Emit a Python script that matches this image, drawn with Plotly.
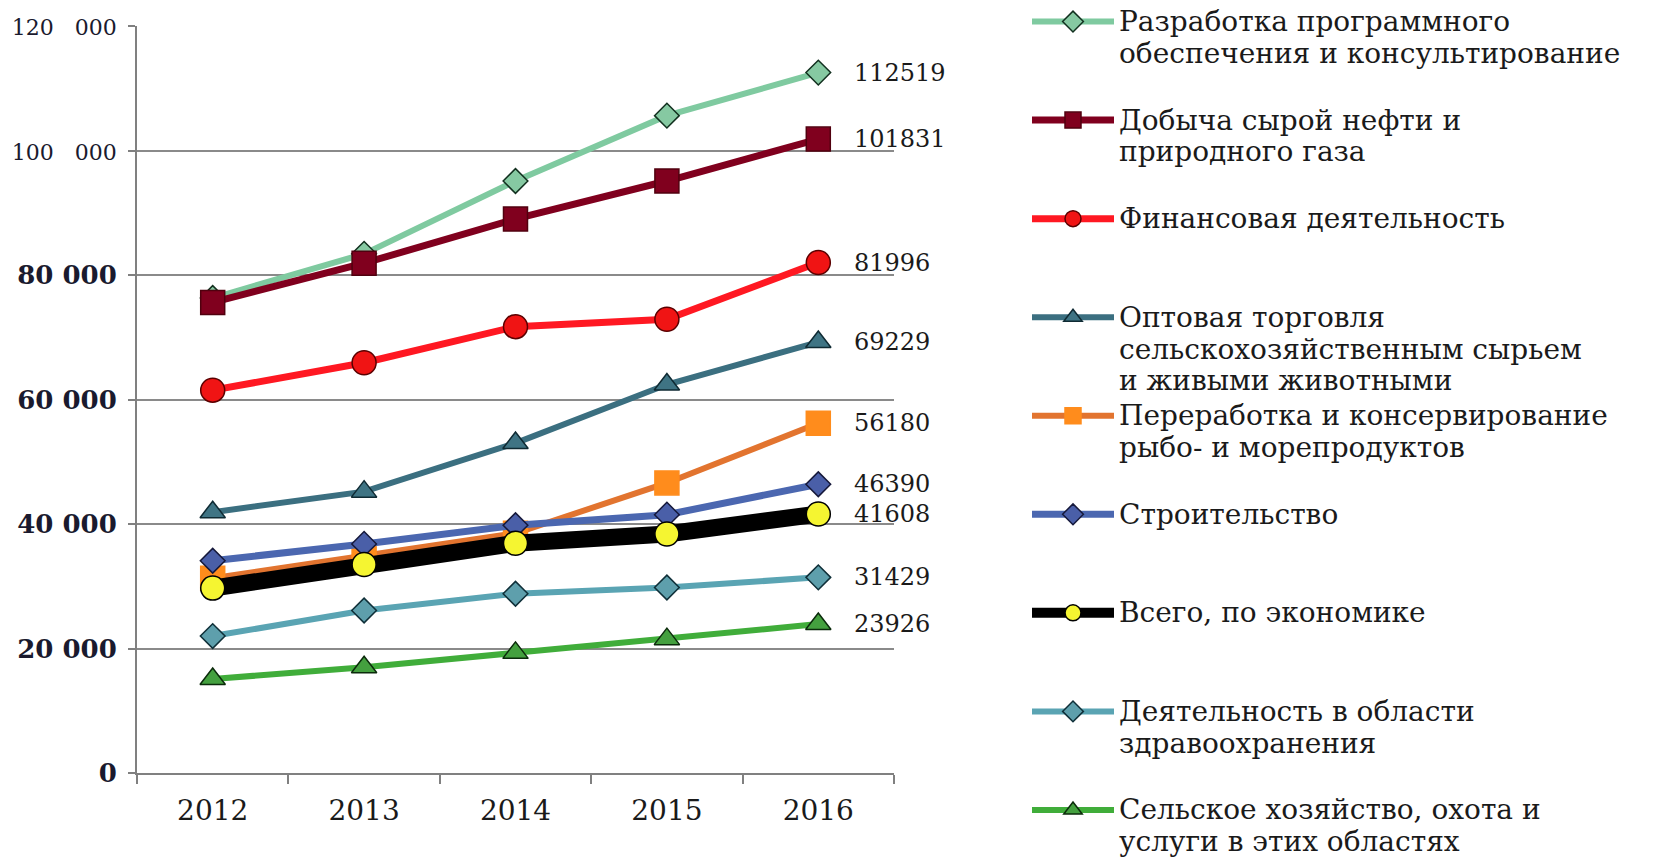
import plotly.graph_objects as go

years = ["2012", "2013", "2014", "2015", "2016"]

names = [
    "Разработка программного<br>обеспечения и консультирование<br>",
    "Добыча сырой нефти и<br>природного газа<br>",
    "Финансовая деятельность<br><br>",
    "Оптовая торговля<br>сельскохозяйственным сырьем<br>и живыми животными",
    "Переработка и консервирование<br>рыбо- и морепродуктов<br>",
    "Строительство<br><br>",
    "Всего, по экономике<br><br>",
    "Деятельность в области<br>здравоохранения<br>",
    "Сельское хозяйство, охота и<br>услуги в этих областях",
]

software = [76300, 83400, 95100, 105600, 112519]
oil = [75600, 81900, 89000, 95100, 101831]
finance = [61500, 65900, 71700, 72900, 81996]
wholesale = [41900, 45200, 53000, 62400, 69229]
fish = [31300, 35000, 38500, 46600, 56180]
construction = [34100, 36800, 39800, 41500, 46390]
total = [29700, 33500, 36900, 38400, 41608]
health = [22000, 26100, 28800, 29800, 31429]
agriculture = [15100, 17000, 19300, 21500, 23926]

series = [software, oil, finance, wholesale, fish, construction, total, health, agriculture]

y_ticks = [0, 20000, 40000, 60000, 80000, 100000, 120000]
y_tick_text = ["<b>0</b>", "<b>20 000</b>", "<b>40 000</b>", "<b>60 000</b>", "<b>80 000</b>",
               "<span style='font-size:22px'>100\u00a0\u00a0\u00a0000</span>",
               "<span style='font-size:22px'>120\u00a0\u00a0\u00a0000</span>"]

styles = [
    dict(lc="#7fcaa0", lw=6, sym="diamond", ms=19, mc="#86c9a2", ml="#12301f"),
    dict(lc="#80001e", lw=7, sym="square", ms=24, mc="#80001e", ml="#50000f"),
    dict(lc="#ff1822", lw=7, sym="circle", ms=24, mc="#f01414", ml="#5a0000"),
    dict(lc="#3b6f80", lw=6, sym="triangle-up", ms=22, mc="#3f7484", ml="#0f2a33"),
    dict(lc="#e2742f", lw=6, sym="square", ms=24, mc="#ff8c1c", ml="#ff8c1c"),
    dict(lc="#4b67b0", lw=7, sym="diamond", ms=19, mc="#4a5fa8", ml="#15183a"),
    dict(lc="#000000", lw=17, sym="circle", ms=24, mc="#f5f531", ml="#000000"),
    dict(lc="#5aa4b3", lw=6, sym="diamond", ms=19, mc="#5e9fac", ml="#0f2f38"),
    dict(lc="#40ad3a", lw=6, sym="triangle-up", ms=22, mc="#44a03f", ml="#0b2b0b"),
]


def legend_label(text):
    return "<br>".join(
        "<span style='font-size:28px'>" + part + "</span>" if part else ""
        for part in text.split("<br>")
    )


fig = go.Figure()
for name, vals, st in zip(names, series, styles):
    fig.add_trace(go.Scatter(
        x=years, y=vals, name=legend_label(name), mode="lines+markers",
        line=dict(color=st["lc"], width=st["lw"]),
        marker=dict(symbol=st["sym"], size=st["ms"], color=st["mc"],
                    line=dict(color=st["ml"], width=1.5)),
    ))

last_index = len(years) - 1
for vals in series:
    fig.add_annotation(
        x=last_index, y=vals[-1], text=str(vals[-1]),
        xanchor="left", yanchor="middle", xshift=34, showarrow=False,
        font=dict(family="DejaVu Serif", size=24, color="#1a1a1a"),
    )

W, H = 1645, 849
fig.update_layout(
    width=W, height=H,
    margin=dict(l=129, r=759, t=18, b=84, autoexpand=False),
    paper_bgcolor="white", plot_bgcolor="white",
    showlegend=True,
    legend=dict(
        xref="container", yref="paper", x=1019 / W, y=1.036,
        xanchor="left", yanchor="top", valign="top",
        itemwidth=82, traceorder="normal",
        font=dict(family="DejaVu Serif", size=24.5, color="#1a1a1a"),
        bgcolor="rgba(0,0,0,0)", borderwidth=0,
        maxheight=1000,
    ),
    xaxis=dict(
        type="category", categoryorder="array", categoryarray=years,
        range=[-0.5, len(years) - 0.5], autorange=False,
        tickson="boundaries", ticks="outside", ticklen=9, tickwidth=2, tickcolor="#808080",
        showline=True, linecolor="#808080", linewidth=2, showgrid=False,
        tickfont=dict(family="DejaVu Serif", size=28, color="#1a1a1a"),
        ticklabelstandoff=11,
    ),
    yaxis=dict(
        range=[0, 120000], autorange=False, tickvals=y_ticks, ticktext=y_tick_text,
        ticks="outside", ticklen=7, tickwidth=2, tickcolor="#808080",
        showline=True, linecolor="#808080", linewidth=2,
        showgrid=True, gridcolor="#8a8a8a", gridwidth=1.5, zeroline=False,
        tickfont=dict(family="DejaVu Serif", size=26, color="#1a1a2e"),
        ticklabelstandoff=6,
    ),
)

fig.write_html("out.html")
